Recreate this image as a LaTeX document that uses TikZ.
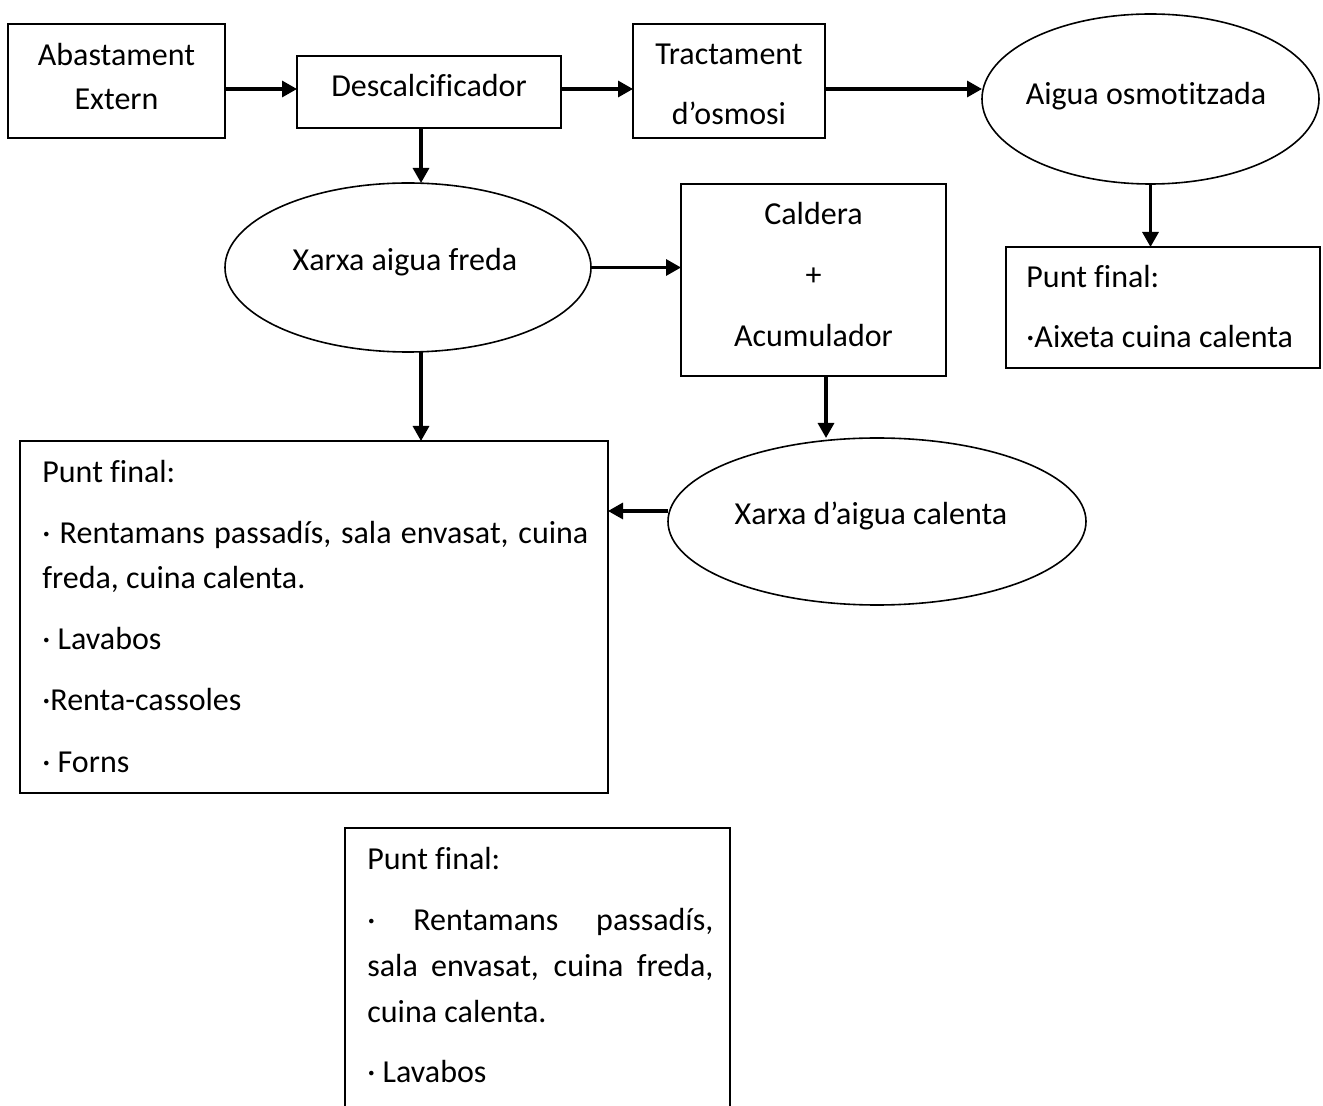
\documentclass[tikz,border=0pt]{standalone}
\usepackage{fontspec}
\setmainfont{Carlito}[Ligatures={NoCommon}]
\usetikzlibrary{arrows.meta,shapes.geometric}
\tikzset{
  boxnode/.style={draw, line width=1pt, rectangle, inner sep=0pt, outer sep=0pt},
  ellnode/.style={draw, line width=0.8pt, ellipse, inner sep=0pt, outer sep=0pt},
  txt/.style={inner sep=0pt, anchor=base, font=\fontsize{16pt}{19pt}\selectfont},
  ltxt/.style={txt, anchor=base west},
  arr/.style={line width=1.6pt, -{Triangle[length=7.5pt,width=8pt]}},
}
\begin{document}
\begin{tikzpicture}[x=0.5pt,y=-0.5pt]
\useasboundingbox (0,0) rectangle (1323,1106);
% helper coordinates
\coordinate (r89) at (0,89);
\coordinate (c421) at (421,0);
\coordinate (c826) at (826,0);
\coordinate (r511) at (0,511);
% shapes
\node[boxnode, minimum width=108.5pt, minimum height=57pt] (abast) at (116.5,81) {};
\node[boxnode, minimum width=132pt, minimum height=36pt] (desc) at (429,92) {};
\node[boxnode, minimum width=96pt, minimum height=57pt] (tract) at (729,81) {};
\node[ellnode, minimum width=168.5pt, minimum height=85pt] (aigua) at (1150.5,99) {};
\node[boxnode, minimum width=157pt, minimum height=60.5pt] (pfr) at (1163,307.5) {};
\node[ellnode, minimum width=183pt, minimum height=84.5pt] (freda) at (408,267.5) {};
\node[boxnode, minimum width=132.5pt, minimum height=96pt] (cald) at (813.5,280) {};
\node[ellnode, minimum width=209pt, minimum height=83.5pt] (calenta) at (877,521.5) {};
\node[boxnode, minimum width=294pt, minimum height=176pt] (big) at (314,617) {};
\node[boxnode, minimum width=192.5pt, minimum height=151pt] (bot) at (537.5,979) {};
% texts
\node[txt] (t1) at (116.5,66) {Abastament};
\node[txt] (t2) at (116.5,110) {Extern};
\node[txt] (t3) at (429,97) {Descalcificador};
\node[txt] (t4) at (729,65) {Tractament};
\node[txt] (t5) at (729,125) {d’osmosi};
\node[txt] (t6) at (1146,105) {Aigua osmotitzada};
\node[ltxt] (t7) at (1026,288) {Punt final:};
\node[ltxt] (t8) at (1026,348) {·Aixeta cuina calenta};
\node[txt] (t9) at (405,271) {Xarxa aigua freda};
\node[txt] (t10) at (813.5,225) {Caldera};
\node[txt] (t11) at (813.5,286) {+};
\node[txt] (t12) at (813.5,347) {Acumulador};
\node[txt] (t13) at (871,525) {Xarxa d’aigua calenta};
\node[ltxt] (b1) at (42,483) {Punt final:};
\node[ltxt] (b2) at (42,544) {\makebox[273pt][s]{· Rentamans passadís, sala envasat, cuina}};
\node[ltxt] (b3) at (42,589) {freda, cuina calenta.};
\node[ltxt] (b4) at (42,650) {· Lavabos};
\node[ltxt] (b5) at (42,711) {·Renta-cassoles};
\node[ltxt] (b6) at (42,772) {· Forns};
\node[ltxt] (d1) at (367,869) {Punt final:};
\node[ltxt] (d2) at (367,930) {\makebox[173pt][s]{· Rentamans passadís,}};
\node[ltxt] (d3) at (367,976) {\makebox[173pt][s]{sala envasat, cuina freda,}};
\node[ltxt] (d4) at (367,1022) {cuina calenta.};
\node[ltxt] (d5) at (367,1082) {· Lavabos};
% connectors
\draw[arr] (abast.east |- r89) -- (desc.west |- r89);
\draw[arr] (desc.east |- r89) -- (tract.west |- r89);
\draw[arr] (tract.east |- r89) -- (aigua.west |- r89);
\draw[arr] (aigua.south) -- (aigua.south |- pfr.north);
\draw[arr] (desc.south -| c421) -- (freda.north -| c421);
\draw[arr] (freda.east) -- (cald.west |- freda.east);
\draw[arr] (freda.south -| c421) -- (big.north -| c421);
\draw[arr] (cald.south -| c826) -- (calenta.north -| c826);
\draw[arr] (calenta.west |- r511) -- (big.east |- r511);
\end{tikzpicture}
\end{document}
